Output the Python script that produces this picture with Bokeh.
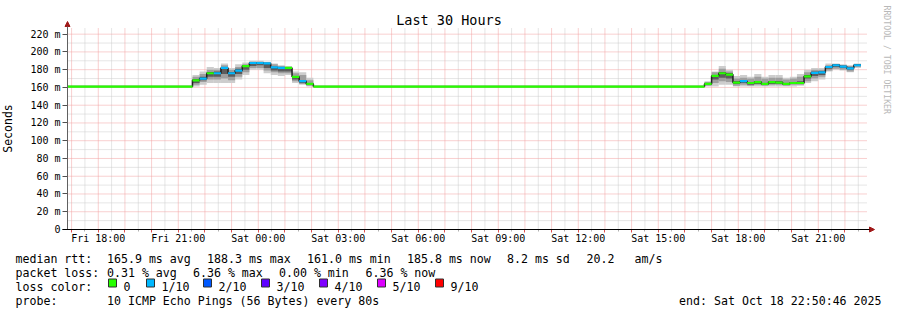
import pandas as pd
from bokeh.plotting import figure
from bokeh.models import Range1d, FixedTicker, Arrow, NormalHead
from bokeh.core.properties import value
from bokeh.embed import file_html
from bokeh.resources import INLINE

# ---------------- data ----------------
title_text = "Last 30 Hours"
range_start = "2025-10-17 16:50:46"
range_end = "2025-10-18 22:50:46"
y_max = 227.5
flat_rtt = 161.0
step_minutes = 16

hump1_start = "2025-10-17 21:32"
hump1_median = [168, 170, 176, 176, 182, 176, 179, 184, 187.5, 187.5, 187, 182.5, 182, 182, 172, 167, 164]
hump1_loss = [0, 1, 0, 1, 1, 1, 1, 0, 1, 1, 1, 1, 1, 0, 0, 1, 0]
hump1_outer_lo = [161, 163, 165, 165, 165, 165, 169, 174, 180, 180, 176, 174, 173, 174, 165, 163, 161]
hump1_outer_hi = [174, 178, 183, 182, 187, 182, 186, 188, 190, 190, 189, 187, 185, 184, 178, 177, 171]
hump1_mid_lo = [163, 166, 169, 169, 170, 168, 172, 177, 182, 182, 179, 177, 176, 176, 167, 164, 162]
hump1_mid_hi = [172, 175, 180, 180, 185, 180, 183, 186, 189, 189, 188, 186, 184, 183, 176, 174, 168]
hump1_core_lo = [165, 168, 172, 172, 175, 172, 175, 180, 184, 185, 182, 179, 178, 178, 169, 165, 163]
hump1_core_hi = [169, 172, 177, 178, 183, 177, 181, 185, 188, 188, 187, 183, 183, 182, 173, 168, 165]

hump2_start = "2025-10-18 16:44"
hump2_median = [164, 173, 176, 174.5, 165.5, 167, 165, 166, 164, 166, 165.5, 164, 165, 165, 172.5, 176.5, 177, 183, 185, 183.5, 181.5, 185]
hump2_loss = [0, 0, 0, 0, 0, 1, 0, 0, 0, 0, 0, 0, 0, 0, 0, 1, 1, 1, 1, 1, 1, 1]
hump2_outer_lo = [161, 161, 163, 163, 161, 161, 161, 161, 161, 161, 161, 161, 161, 162, 165, 167, 169, 178, 180, 179, 177, 182]
hump2_outer_hi = [167, 178, 184, 180, 173, 174, 172, 175, 172, 174, 174, 171, 172, 175, 180, 182, 182, 187, 187, 186, 185, 187]
hump2_mid_lo = [162, 165, 167, 166, 162, 163, 162, 163, 162, 163, 163, 162, 163, 163, 167, 170, 172, 179, 181, 180, 178, 183]
hump2_mid_hi = [166, 177, 181, 178, 170, 171, 170, 172, 170, 171, 171, 169, 170, 172, 177, 180, 180, 185, 186, 185, 184, 186]
hump2_core_lo = [163, 169, 171, 170, 164, 165, 163, 164, 163, 164, 164, 163, 164, 164, 170, 173, 174, 181, 183, 182, 180, 184]
hump2_core_hi = [165, 174, 177, 176, 167, 168, 166, 167, 165, 167, 167, 165, 166, 167, 174, 178, 178, 184, 186, 184.5, 183, 186]

loss_labels = ["0", "1/10", "2/10", "3/10", "4/10", "5/10", "9/10"]
loss_colors = ["#26ff00", "#00b8ff", "#0059ff", "#5e00ff", "#7e00ff", "#dd00ff", "#ff0000"]

y_tick_values = [0, 20, 40, 60, 80, 100, 120, 140, 160, 180, 200, 220]
y_tick_labels = ["0", "20 m", "40 m", "60 m", "80 m", "100 m", "120 m", "140 m", "160 m", "180 m", "200 m", "220 m"]
y_minor_values = [10, 30, 50, 70, 90, 110, 130, 150, 170, 190, 210]

x_label_times = ["2025-10-17 18:00", "2025-10-17 21:00", "2025-10-18 00:00", "2025-10-18 03:00",
                 "2025-10-18 06:00", "2025-10-18 09:00", "2025-10-18 12:00", "2025-10-18 15:00",
                 "2025-10-18 18:00", "2025-10-18 21:00"]
x_label_texts = ["Fri 18:00", "Fri 21:00", "Sat 00:00", "Sat 03:00", "Sat 06:00", "Sat 09:00",
                 "Sat 12:00", "Sat 15:00", "Sat 18:00", "Sat 21:00"]

legend_rtt = ["median rtt:", "165.9 ms avg", "188.3 ms max", "161.0 ms min", "185.8 ms now", "8.2 ms sd", "20.2", "am/s"]
legend_loss = ["packet loss:", "0.31 % avg", "6.36 % max", "0.00 % min", "6.36 % now"]
legend_color = "loss color:"
legend_probe = ["probe:", "10 ICMP Echo Pings (56 Bytes) every 80s"]
legend_end = "end: Sat Oct 18 22:50:46 2025"
watermark = "RRDTOOL / TOBI OETIKER"

# ---------------- helpers ----------------
def to_ms(values):
    return list(pd.to_datetime(values).asi8 / 1e6)

def steps(start, n):
    t = pd.date_range(start, periods=n + 1, freq=f"{step_minutes}min")
    return to_ms(t[:-1]), to_ms(t[1:])

h1_l, h1_r = steps(hump1_start, len(hump1_median))
h2_l, h2_r = steps(hump2_start, len(hump2_median))
t0, t1 = to_ms([range_start, range_end])

left = [t0] + h1_l + [h1_r[-1]] + h2_l
right = [h1_l[0]] + h1_r + [h2_l[0]] + h2_r
median = [flat_rtt] + hump1_median + [flat_rtt] + hump2_median
loss = [0] + hump1_loss + [0] + hump2_loss
seg_colors = [loss_colors[k] for k in loss]
smoke_l = h1_l + h2_l
smoke_r = h1_r + h2_r

# ---------------- layout: the frame covers the whole canvas ----------------
W, H = 897, 310
PL, PR, PT, PB = 67, 867, 27, 229      # plot area inside the canvas (pixels)
mpp = (t1 - t0) / (PR - PL)             # ms per pixel
vpp = y_max / (PB - PT)                 # rtt-ms per pixel

def X(cx):
    return t0 + (cx - PL) * mpp

def Y(cy):
    return (PB - cy) * vpp

MONO = "DejaVu Sans Mono"

p = figure(width=W, height=H, output_backend="svg", toolbar_location=None,
           x_range=Range1d(X(0), X(W)), y_range=Range1d(Y(H), Y(0)),
           min_border=0, min_border_left=0, min_border_right=0, min_border_top=0, min_border_bottom=0)
p.background_fill_color = "white"
p.border_fill_color = "white"
p.outline_line_color = None
p.grid.visible = False

# axes fixed at the plot area's edges
hour_ticks = to_ms(pd.date_range("2025-10-17 17:00", "2025-10-18 22:00", freq="h"))
half_ticks = to_ms(pd.date_range("2025-10-17 17:30", "2025-10-18 22:30", freq="h"))
xlab = dict(zip(to_ms(x_label_times), x_label_texts))

xa = p.xaxis[0]
xa.fixed_location = 0
xa.bounds = (t0, t1)
xa.ticker = FixedTicker(ticks=hour_ticks, minor_ticks=half_ticks)
xa.major_label_overrides = {t: xlab.get(t, "") for t in hour_ticks}
xa.axis_line_color = None
xa.major_tick_line_color = "#e05050"
xa.major_tick_out = 3
xa.major_tick_in = 0
xa.minor_tick_line_color = "#b0b0b0"
xa.minor_tick_out = 2
xa.minor_tick_in = 0
xa.major_label_text_font = MONO
xa.major_label_text_font_size = "10px"
xa.major_label_text_color = "black"
xa.major_label_standoff = 0

ya = p.yaxis[0]
ya.fixed_location = t0
ya.bounds = (0, y_max)
ya.ticker = FixedTicker(ticks=y_tick_values, minor_ticks=y_minor_values)
ya.major_label_overrides = dict(zip(y_tick_values, y_tick_labels))
ya.axis_line_color = None
ya.major_tick_line_color = "#505050"
ya.major_tick_out = 5
ya.major_tick_in = 0
ya.minor_tick_line_color = None
ya.major_label_text_font = MONO
ya.major_label_text_font_size = "10px"
ya.major_label_text_color = "black"
ya.major_label_standoff = 2
ya.axis_label = "Seconds"
ya.axis_label_text_font = MONO
ya.axis_label_text_font_size = "11.5px"
ya.axis_label_text_font_style = "normal"
ya.axis_label_text_color = "black"
ya.axis_label_standoff = 12

# grid lines restricted to the plot area
MAJ, MIN = "#f2a0a0", "#cccccc"
p.segment(x0=half_ticks, x1=half_ticks, y0=0, y1=y_max, line_color=MIN, line_dash="1 1", line_width=1)
p.segment(x0=t0, x1=t1, y0=y_minor_values, y1=y_minor_values, line_color=MIN, line_dash="1 1", line_width=1)
p.segment(x0=hour_ticks, x1=hour_ticks, y0=0, y1=y_max, line_color=MAJ, line_dash="1 1", line_width=1)
p.segment(x0=t0, x1=t1, y0=y_tick_values[1:], y1=y_tick_values[1:], line_color=MAJ, line_dash="1 1", line_width=1)

# smoke
p.quad(left=smoke_l, right=smoke_r, bottom=hump1_outer_lo + hump2_outer_lo, top=hump1_outer_hi + hump2_outer_hi,
       fill_color="#cdcdcd", line_color=None)
p.quad(left=smoke_l, right=smoke_r, bottom=hump1_mid_lo + hump2_mid_lo, top=hump1_mid_hi + hump2_mid_hi,
       fill_color="#9e9e9e", line_color=None)
p.quad(left=smoke_l, right=smoke_r, bottom=hump1_core_lo + hump2_core_lo, top=hump1_core_hi + hump2_core_hi,
       fill_color="#5c5c5c", line_color=None)

# median
p.step(x=left + [right[-1]], y=median + [median[-1]], mode="after", line_color="#202020", line_width=1.5)
p.segment(x0=left, x1=right, y0=median, y1=median, line_color=seg_colors, line_width=2.2, line_cap="butt")

# axis lines with arrows
arrow_col = "#a01818"
p.add_layout(Arrow(end=NormalHead(size=5, fill_color=arrow_col, line_color=arrow_col),
                   x_start=t0, y_start=0, x_end=t0, y_end=Y(21), line_color="#606060", line_width=1))
p.add_layout(Arrow(end=NormalHead(size=5, fill_color=arrow_col, line_color=arrow_col),
                   x_start=X(62), y_start=0, x_end=X(874), y_end=0, line_color="black", line_width=1))

def text(s, cx, cy, size, color="black", align="left", baseline="alphabetic", angle=0.0):
    p.text(x=[X(c) for c in cx], y=Y(cy), text=s, text_font=value(MONO), text_font_size=value(size),
           text_color=color, text_align=align, text_baseline=baseline, angle=angle)

text([title_text], [448.5], 19, "13.5px", align="center", baseline="middle")
text([watermark], [886], 5, "8.2px", color="#b8b8b8", align="left", baseline="middle", angle=-1.5707963)

LEG = "11.6px"
text(legend_rtt, [15, 106.5, 206.5, 306.5, 406.5, 506.5, 586, 634], 258, LEG)
text(legend_loss, [15, 106.5, 192.5, 278.5, 365], 272, LEG)
text([legend_color], [15], 286, LEG)
text(legend_probe, [15, 106.5], 300, LEG)
text([legend_end], [881], 300, LEG, align="right")

box_x = [108, 146, 203, 261, 319, 377, 435]
p.quad(left=[X(b) for b in box_x], right=[X(b + 8) for b in box_x],
       top=Y(278.5), bottom=Y(286.5), fill_color=loss_colors, line_color="#303030", line_width=1)
text(loss_labels, [b + 15 for b in box_x], 286, LEG)

open("out.html", "w").write(file_html(p, INLINE))
